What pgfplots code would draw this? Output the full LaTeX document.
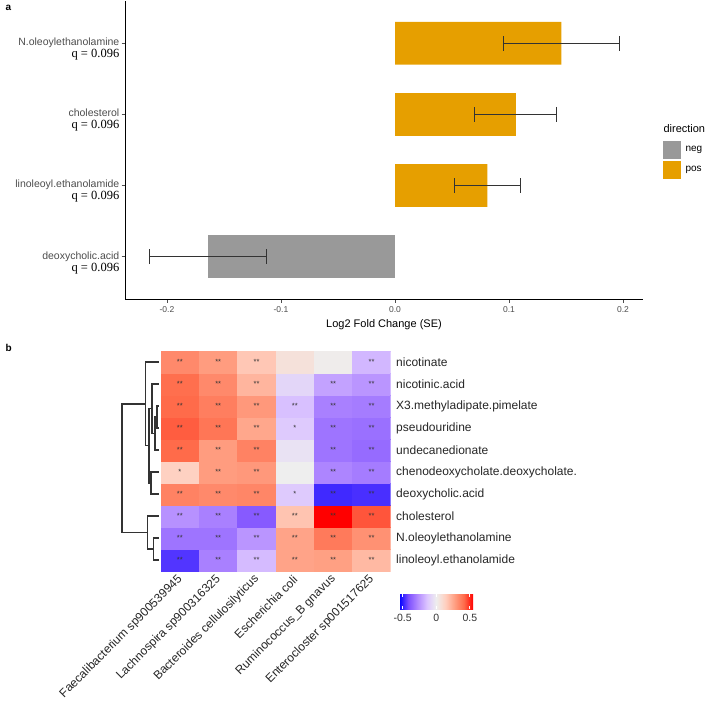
\documentclass[border=0pt]{standalone}
\usepackage{fontspec}
\setmainfont{Liberation Sans}
\newfontfamily\qserif{Liberation Serif}
\usepackage{pgfplots}
\pgfplotsset{compat=1.18}
\definecolor{posorange}{HTML}{E69F00}
\definecolor{neggrey}{HTML}{999999}
\definecolor{tickgrey}{HTML}{4D4D4D}
\definecolor{treegrey}{HTML}{333333}
\pgfplotsset{
  colormap={bwr}{rgb255(-4)=(0,0,255) rgb255(-3)=(126,81,255) rgb255(-2)=(179,139,255)
    rgb255(-1)=(220,197,255) rgb255(0)=(238,238,238) rgb255(1)=(255,207,191)
    rgb255(2)=(255,158,129) rgb255(3)=(255,106,73) rgb255(4)=(255,0,0)},
  tree/.style={treegrey, line width=1.1pt, no marks, forget plot},
  errs/.style={error bars/.cd, x dir=both, x explicit, error mark=|,
    error bar style={draw=treegrey, line width=1.1pt},
    error mark options={draw=treegrey, line width=1.1pt, mark size=7.5pt}},
}
\newcommand{\ylab}[1]{{\fontsize{10.5}{11}\selectfont\color{tickgrey}#1}\\{\qserif\fontsize{12.5}{12}\selectfont q = 0.096}}

\begin{document}
\begin{tikzpicture}[x=1pt,y=1pt]
\useasboundingbox (0,0) rectangle (709,702);

% ---- panel a: log2 fold change ----
\begin{axis}[
  at={(125pt,402.6pt)}, anchor=south west,
  scale only axis, width=518pt, height=298.8pt,
  xmin=-0.2368, xmax=0.2175, ymin=0.4, ymax=4.6,
  axis x line*=bottom, axis y line*=left,
  axis line style={black, line width=0.8pt},
  tick align=outside, major tick length=3.5pt,
  tick style={tickgrey, line width=0.8pt},
  xtick={-0.2,-0.1,0,0.1,0.2},
  xticklabels={-0.2,-0.1,0.0,0.1,0.2},
  xticklabel style={font=\fontsize{8.5}{10}\selectfont, text=tickgrey},
  ytick={1,2,3,4},
  yticklabels={{\ylab{deoxycholic.acid}}, {\ylab{linoleoyl.ethanolamide}},
    {\ylab{cholesterol}}, {\ylab{N.oleoylethanolamine}}},
  yticklabel style={align=right, anchor=north east, yshift=7.5pt, inner sep=2pt},
  xlabel={Log2 Fold Change (SE)},
  xlabel style={font=\fontsize{11}{13}\selectfont},
  clip=false,
  legend cell align=left,
  legend style={at={(1.0328,0.537)}, anchor=north west, draw=none, fill=none,
    font=\fontsize{10}{12}\selectfont, row sep=2pt,
    nodes={inner xsep=5pt}},
]
\addplot[xbar, bar shift=0pt, bar width=0.6, fill=neggrey, draw=none, forget plot, errs]
  coordinates {(-0.164,1) +- (0.0515,0)};
\addplot[xbar, bar shift=0pt, bar width=0.6, fill=posorange, draw=none, forget plot, errs]
  coordinates {(0.081,2) +- (0.029,0) (0.106,3) +- (0.036,0) (0.146,4) +- (0.051,0)};
\addlegendimage{legend image code/.code={\fill[neggrey] (0pt,-8.5pt) rectangle (17pt,8.5pt);}}
\addlegendentry{neg}
\addlegendimage{legend image code/.code={\fill[posorange] (0pt,-8.5pt) rectangle (17pt,8.5pt);}}
\addlegendentry{pos}
\end{axis}
\node[anchor=base west, font=\fontsize{11}{13}\selectfont] at (660,569) {direction};

% ---- panel b: dendrogram ----
\begin{axis}[
  at={(118pt,131pt)}, anchor=south west,
  scale only axis, width=42.7pt, height=220pt,
  xmin=118, xmax=160.7, ymin=-0.5, ymax=9.5,
  hide axis, clip=false,
]
\addplot[tree] coordinates {(159,0) (153.3,0) (153.3,1) (159,1)};
\addplot[tree] coordinates {(153.3,0.5) (147.7,0.5) (147.7,2) (159,2)};
\addplot[tree] coordinates {(159,3) (151,3) (151,4) (159,4)};
\addplot[tree] coordinates {(159,6) (157,6) (157,7) (159,7)};
\addplot[tree] coordinates {(159,5) (155,5) (155,6.5) (157,6.5)};
\addplot[tree] coordinates {(155,5.75) (152,5.75) (152,8) (159,8)};
\addplot[tree] coordinates {(151,3.5) (149,3.5) (149,6.875) (152,6.875)};
\addplot[tree] coordinates {(149,5.19) (145.3,5.19) (145.3,9) (159,9)};
\addplot[tree] coordinates {(147.7,1.25) (122,1.25) (122,7.09) (145.3,7.09)};
\end{axis}

% ---- panel b: heatmap ----
\begin{axis}[
  at={(160.7pt,131pt)}, anchor=south west,
  scale only axis, width=230pt, height=220pt,
  xmin=-0.5, xmax=5.5, ymin=-0.5, ymax=9.5,
  axis line style={draw=none}, major tick length=0pt,
  colormap name=bwr, point meta min=-0.55, point meta max=0.55,
  xtick={0,...,5},
  xticklabels={Faecalibacterium sp900539945, Lachnospira sp900316325,
    Bacteroides cellulosilyticus, Escherichia coli, Ruminococcus\_B gnavus,
    Enterocloster sp001517625},
  xticklabel style={xshift=3pt, yshift=-4pt, rotate=45, anchor=east,
    font=\fontsize{12}{14}\selectfont, text=black!85},
  ytick={0,...,9},
  yticklabels={linoleoyl.ethanolamide, N.oleoylethanolamine, cholesterol,
    deoxycholic.acid, chenodeoxycholate.deoxycholate., undecanedionate,
    pseudouridine, X3.methyladipate.pimelate, nicotinic.acid, nicotinate},
  yticklabel pos=right,
  yticklabel style={xshift=2pt, font=\fontsize{12}{14}\selectfont, text=black!85},
  colorbar horizontal,
  colorbar style={
    at={(1.037,-0.106)}, anchor=north west,
    scale only axis, width=74pt, height=14.7pt,
    xtick={-0.5,0,0.5}, xticklabels={-0.5,0,0.5},
    xticklabel style={yshift=-2pt, font=\fontsize{10.5}{12}\selectfont, text=black!80},
    axis line style={draw=none},
    major tick length=3pt, tick align=inside, xtick pos=both,
    xticklabel pos=lower,
    tick style={white, line width=1pt},
  },
]
\addplot[matrix plot*, mesh/cols=6, point meta=explicit] table [meta=v] {
x y v
0 0 -0.46
1 0 -0.30
2 0 -0.16
3 0 0.26
4 0 0.27
5 0 0.20
0 1 -0.33
1 1 -0.33
2 1 -0.25
3 1 0.26
4 1 0.37
5 1 0.31
0 2 -0.26
1 2 -0.30
2 2 -0.39
3 2 0.17
4 2 0.55
5 2 0.44
0 3 0.35
1 3 0.33
2 3 0.34
3 3 -0.12
4 3 -0.48
5 3 -0.47
0 4 0.13
1 4 0.28
2 4 0.29
3 4 0.00
4 4 -0.29
5 4 -0.31
0 5 0.41
1 5 0.28
2 5 0.35
3 5 -0.04
4 5 -0.33
5 5 -0.35
0 6 0.43
1 6 0.38
2 6 0.25
3 6 -0.12
4 6 -0.33
5 6 -0.34
0 7 0.41
1 7 0.36
2 7 0.29
3 7 -0.15
4 7 -0.30
5 7 -0.31
0 8 0.40
1 8 0.33
2 8 0.21
3 8 -0.08
4 8 -0.22
5 8 -0.25
0 9 0.33
1 9 0.28
2 9 0.16
3 9 0.06
4 9 0.01
5 9 -0.17
};
\addplot[only marks, mark=none, point meta=explicit symbolic,
  nodes near coords,
  nodes near coords style={anchor=center, font=\fontsize{7.5}{8}\selectfont, text=black!80, inner sep=0pt}]
  table [meta=s] {
x y s
0 0 **
1 0 **
2 0 **
3 0 **
4 0 **
5 0 **
0 1 **
1 1 **
2 1 **
3 1 **
4 1 **
5 1 **
0 2 **
1 2 **
2 2 **
3 2 **
4 2 **
5 2 **
0 3 **
1 3 **
2 3 **
3 3 *
4 3 **
5 3 **
0 4 *
1 4 **
2 4 **
4 4 **
5 4 **
0 5 **
1 5 **
2 5 **
4 5 **
5 5 **
0 6 **
1 6 **
2 6 **
3 6 *
4 6 **
5 6 **
0 7 **
1 7 **
2 7 **
3 7 **
4 7 **
5 7 **
0 8 **
1 8 **
2 8 **
4 8 **
5 8 **
0 9 **
1 9 **
2 9 **
5 9 **
};
\end{axis}

\node[anchor=north west, font=\bfseries\fontsize{10}{12}\selectfont] at (2,700) {a};
\node[anchor=north west, font=\bfseries\fontsize{10}{12}\selectfont] at (2,361) {b};
\end{tikzpicture}
\end{document}
